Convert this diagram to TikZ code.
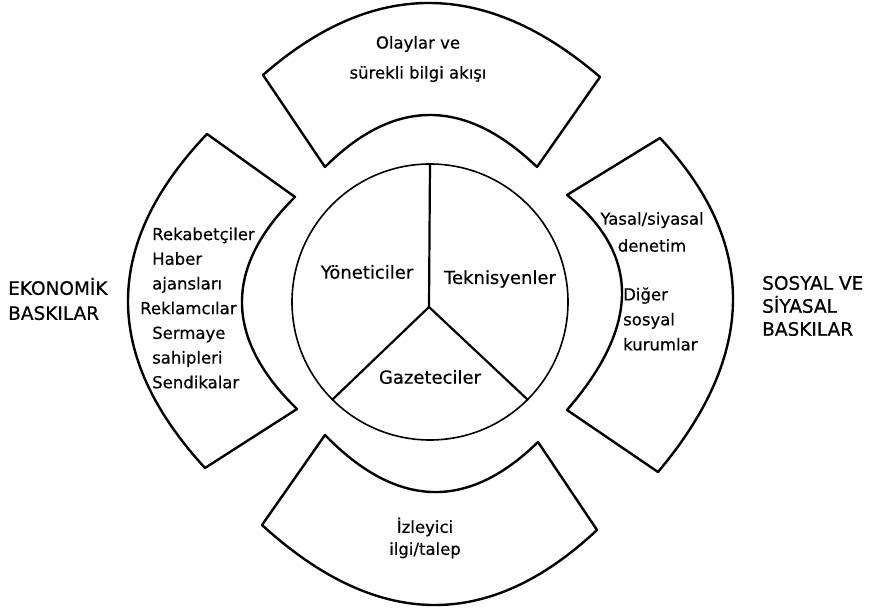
\documentclass[tikz,border=0pt]{standalone}
\usepackage{fontspec}
\setmainfont{DejaVu Sans}[FakeBold=0.5]
\usetikzlibrary{calc}

\begin{document}
\begin{tikzpicture}[x=1pt,y=1pt,
  band/.style={line width=2.4pt,line join=round},
  spoke/.style={line width=2.2pt},
  thru/.style={to path={let \p1=($2*(#1)-0.5*(\tikztostart)-0.5*(\tikztotarget)$) in
    .. controls ($(\tikztostart)!0.6667!(\p1)$) and ($(\tikztotarget)!0.6667!(\p1)$) .. (\tikztotarget)}},
  inner/.style={font=\fontsize{18}{22}\selectfont,inner sep=0pt},
  item/.style={font=\fontsize{16.5}{#1}\selectfont,inner sep=0pt},
  title/.style={font=\fontsize{18.5}{#1}\selectfont,inner sep=0pt,align=left,anchor=west}]
  \useasboundingbox (0,0) rectangle (879,610);

  \coordinate (olay-ol) at (263,535); \coordinate (olay-om) at (430,607); \coordinate (olay-or) at (600,533);
  \coordinate (olay-il) at (325,443); \coordinate (olay-im) at (430,495); \coordinate (olay-ir) at (537,443);
  \coordinate (ekon-ot) at (207,476); \coordinate (ekon-om) at (128,310); \coordinate (ekon-ob) at (205,142);
  \coordinate (ekon-it) at (295,413); \coordinate (ekon-im) at (242,307); \coordinate (ekon-ib) at (297,201);
  \coordinate (sosy-ot) at (660,472); \coordinate (sosy-om) at (733,310); \coordinate (sosy-ob) at (658,138);
  \coordinate (sosy-it) at (567,415); \coordinate (sosy-im) at (622,317); \coordinate (sosy-ib) at (567,200);
  \coordinate (izle-il) at (325,175); \coordinate (izle-im) at (432,118); \coordinate (izle-ir) at (538,168);
  \coordinate (izle-ol) at (262,85);  \coordinate (izle-om) at (432,5);   \coordinate (izle-or) at (597,80);

  \draw[band] (olay-ol) to[thru=olay-om] (olay-or) -- (olay-ir) to[thru=olay-im] (olay-il) -- cycle;
  \draw[band] (ekon-ot) to[thru=ekon-om] (ekon-ob) -- (ekon-ib) to[thru=ekon-im] (ekon-it) -- cycle;
  \draw[band] (sosy-ot) to[thru=sosy-om] (sosy-ob) -- (sosy-ib) to[thru=sosy-im] (sosy-it) -- cycle;
  \draw[band] (izle-ol) to[thru=izle-om] (izle-or) -- (izle-ir) to[thru=izle-im] (izle-il) -- cycle;

  \node[draw,circle,line width=1.6pt,minimum size=276pt,inner sep=0pt] (ring) at (430,308) {};
  \coordinate (hub) at (429,303);
  \draw[spoke] (hub) -- (ring.north) (hub) -- (ring.-135) (hub) -- (ring.-45);

  \node[inner] (yon) at (367,338) {Yöneticiler};
  \node[inner] (tek) at (500,331) {Teknisyenler};
  \node[inner] (gaz) at (430,233) {Gazeteciler};

  \node[item=30,align=center] (olay) at (418,551) {Olaylar ve\\sürekli bilgi akışı};
  \node[item=24.7,align=left,anchor=west] (ekon) at (152,302)
    {Rekabetçiler\\Haber\\ajansları\\\hspace*{-12pt}Reklamcılar\\Sermaye\\sahipleri\\Sendikalar};
  \node[item=27,align=center] (sosy-a) at (652,378) {Yasal/siyasal\\denetim};
  \node[item=25,align=left,anchor=west] (sosy-b) at (623,291) {Diğer\\sosyal\\kurumlar};
  \node[item=22,align=center] (izle) at (425,72) {İzleyici\\ilgi/talep};

  \node[title=25] (ekon-t) at (8,311) {EKONOMİK\\BASKILAR};
  \node[title=23] (sosy-t) at (762,304) {SOSYAL VE\\SİYASAL\\BASKILAR};
\end{tikzpicture}
\end{document}
